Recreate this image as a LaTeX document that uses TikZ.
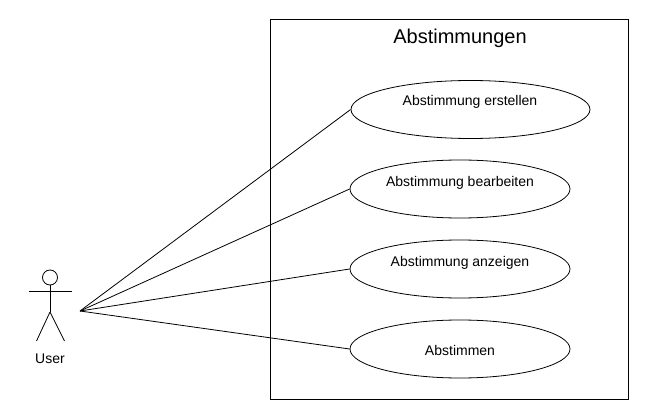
\documentclass[tikz,border=0pt]{standalone}
\usepackage{fontspec}
\setmainfont{Liberation Sans}
\usepackage{tikz}
\usetikzlibrary{shapes.geometric}
\tikzstyle{usecase} = [ellipse, minimum width=220pt, minimum height=58pt, inner sep=0pt, draw=black, fill=white, line width=0.8pt]
\tikzstyle{caption} = [inner sep=0pt, font=\fontsize{14pt}{16pt}\selectfont]
\tikzstyle{limb} = [draw=black, line width=0.8pt]
\tikzstyle{assoc} = [draw=black, line width=0.8pt]
\begin{document}
\begin{tikzpicture}[x=1pt,y=-1pt]
\useasboundingbox (0,0) rectangle (670,420);
\node (system) [rectangle, draw=black, line width=0.8pt, minimum width=358pt, minimum height=380pt, inner sep=0pt] at (449,209.5) {};
\node (title) [inner sep=0pt, font=\fontsize{20pt}{24pt}\selectfont] at (460,38) {Abstimmungen};

\node (erstellen) [usecase, minimum width=239pt] at (470.5,109.5) {};
\node (erstellentext) [caption] at (470,102) {Abstimmung erstellen};
\node (bearbeiten) [usecase] at (460,189) {};
\node (bearbeitentext) [caption] at (460,183) {Abstimmung bearbeiten};
\node (anzeigen) [usecase] at (460,269) {};
\node (anzeigentext) [caption] at (460,262.5) {Abstimmung anzeigen};
\node (abstimmen) [usecase] at (460,349) {};
\node (abstimmentext) [caption] at (460,350) {Abstimmen};

% actor
\node (head) [circle, draw=black, line width=0.8pt, minimum size=15pt, inner sep=0pt] at (50,277.5) {};
\coordinate (hip) at (50,312);
\coordinate (hand) at (80,311);
\coordinate (armL) at (29,291);
\coordinate (armR) at (72,291);
\coordinate (footL) at (36.5,341);
\coordinate (footR) at (64.5,341);
\draw [limb] (head) -- (hip);
\draw [limb] (armL) -- (armR);
\draw [limb] (hip) -- (footL);
\draw [limb] (hip) -- (footR);
\node (user) [caption] at (50,358.5) {User};

\draw [assoc] (hand) -- (erstellen.west);
\draw [assoc] (hand) -- (bearbeiten.west);
\draw [assoc] (hand) -- (anzeigen.west);
\draw [assoc] (hand) -- (abstimmen.west);
\end{tikzpicture}
\end{document}
